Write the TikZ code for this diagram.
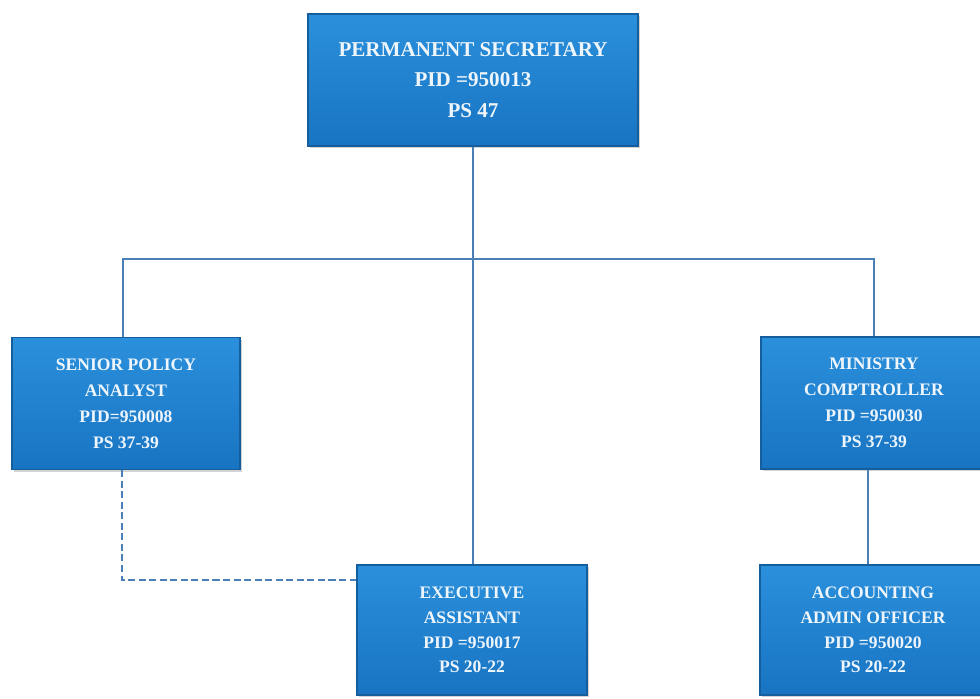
\documentclass[tikz,border=0pt]{standalone}
\usepackage{fontspec}
\setmainfont{Liberation Serif}
\usepackage{tikz}
\usetikzlibrary{positioning}
\usetikzlibrary{shadows}
\definecolor{boxtop}{HTML}{2B90DC}
\definecolor{boxbot}{HTML}{1874C2}
\definecolor{boxline}{HTML}{155E9E}
\definecolor{wire}{HTML}{4A7FB8}
\definecolor{boxtext}{HTML}{EEF5FB}
\tikzset{
  post/.style={draw=boxline, line width=0.8pt, top color=boxtop, bottom color=boxbot,
    text=boxtext, align=center, inner sep=2pt,
    font=\bfseries\fontsize{12.5}{18.5}\selectfont,
    drop shadow={shadow xshift=1.5pt, shadow yshift=-1.5pt, opacity=0.35}},
  wireline/.style={draw=wire, line width=1pt},
}

\begin{document}
\begin{tikzpicture}[x=0.025cm, y=-0.025cm]
    \useasboundingbox (0,0) rectangle (980,698);

    \node [post, minimum width=8.25cm, minimum height=3.3cm,
      font=\bfseries\fontsize{15}{21.5}\selectfont] (ps) at (473,80)
      {PERMANENT SECRETARY\\PID =950013\\PS 47};
    \node [post, minimum width=5.7cm, minimum height=3.3cm] (spa) at (126,403.5)
      {SENIOR POLICY\\ANALYST\\PID=950008\\PS 37-39};
    \node [post, minimum width=5.65cm, minimum height=3.3cm] (mc) at (874,403)
      {MINISTRY\\COMPTROLLER\\PID =950030\\PS 37-39};
    \node [post, minimum width=5.75cm, minimum height=3.25cm,
      font=\bfseries\fontsize{12.5}{17.5}\selectfont] (ea) at (472,630)
      {EXECUTIVE\\ASSISTANT\\PID =950017\\PS 20-22};
    \node [post, minimum width=5.65cm, minimum height=3.25cm,
      font=\bfseries\fontsize{12.5}{17.5}\selectfont] (aa) at (873,630)
      {ACCOUNTING\\ADMIN OFFICER\\PID =950020\\PS 20-22};

    % reporting lines
    \draw [wireline] (ps.south) -- (ps.south |- ea.north);
    \draw [wireline] ([xshift=-0.07cm]spa.north) -- ++(0,-78) -| (mc.north);
    \draw [wireline] ([xshift=-0.15cm]mc.south) -- ([xshift=-0.15cm]mc.south |- aa.north);
    \draw [wireline, dash pattern=on 5pt off 2.5pt] ([xshift=-0.1cm]spa.south) |- ([yshift=1.25cm]ea.west);
\end{tikzpicture}
\end{document}
